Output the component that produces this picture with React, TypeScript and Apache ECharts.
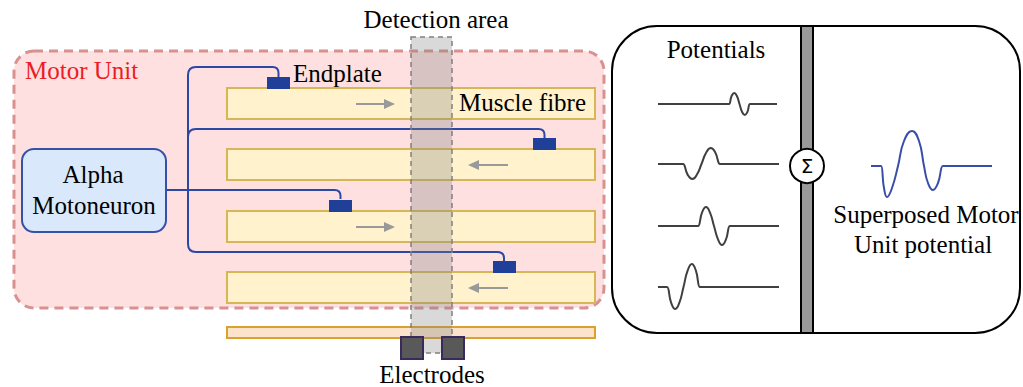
import React, { useEffect, useRef } from 'react';
import * as echarts from 'echarts';

// ---- data: estimated potential waveforms (time offset, amplitude) ----
const potential1 = [[0, 0], [69.5, 0], [71, 0], [73.6, 8], [76.3, 11], [78.9, 8], [81.5, 0], [84.1, -8], [86.8, -11], [89.4, -8], [92, 0], [93.5, 0], [119, 0]];
const potential2 = [[0, 0], [23.5, 0], [25, 0], [29.6, -10.6], [34.3, -15], [38.9, -10.6], [43.5, 0], [48.1, 11.3], [52.8, 16], [57.4, 11.3], [62, 0], [63.5, 0], [121, 0]];
const potential3 = [[0, 0], [38.5, 0], [40, 0], [44, 13.4], [48, 19], [52, 13.4], [56, 0], [60, -13.4], [64, -19], [68, -13.4], [72, 0], [73.5, 0], [121, 0]];
const potential4 = [[0, 0], [7.5, 0], [9, 0], [13.1, -15.6], [17.3, -22], [21.4, -15.6], [25.5, 0], [29.6, 16.3], [33.8, 23], [37.9, 16.3], [42, 0], [43.5, 0], [121, 0]];
const superposed = [[0, 0], [8.5, 0], [10, 0], [13, -22], [16, -31], [21, -22], [27, 0], [33, 25], [41, 35], [48, 25], [53, 0], [57, -17], [62, -24], [67, -17], [72, 0], [73.5, 0], [121, 0]];

const fibreLabels = ['Fibre 1', 'Fibre 2', 'Fibre 3', 'Fibre 4'];
const conduction = [1, -1, 1, -1];

// ---- layout ----
const fibreTop = [88, 149, 211, 272];
const endplateX = [267, 533, 329, 493];
const waveBase = [104, 164, 226, 287];
const potentials = [potential1, potential2, potential3, potential4];

const NERVE_D =
  'M 278.5 77 L 278.5 73 Q 278.5 67 272.5 67 L 196 67 Q 188 67 188 75 L 188 244 Q 188 252 196 252 L 497 252 Q 504 252 504 258 L 504 261 ' +
  'M 188 137 Q 188 129 196 129 L 538.5 129 Q 544.5 129 544.5 135 L 544.5 138 ' +
  'M 166 190 L 334.5 190 Q 340.5 190 340.5 196 L 340.5 199';

echarts.graphic.registerShape('nerve', echarts.graphic.extendPath(NERVE_D, {}));

const SERIF = 'Liberation Serif';

function txt(text: string, x: number, y: number, align: string, size = 25, color = '#000') {
  return {
    type: 'text',
    x,
    y,
    style: { text, fill: color, fontSize: size, fontFamily: SERIF, textAlign: align, textVerticalAlign: 'middle' },
  };
}

export default function App() {
  const ref = useRef<HTMLDivElement>(null);
  useEffect(() => {
    if (!ref.current) return;
    const chart = echarts.init(ref.current, null, { renderer: 'svg' });

    const graphics: any[] = [];
    // Motor unit box
    graphics.push({
      type: 'rect',
      shape: { x: 14, y: 51, width: 590, height: 257, r: 20 },
      style: { fill: '#fde0df', stroke: '#d89190', lineWidth: 3, lineDash: [9, 6] },
    });
    graphics.push(txt('Motor Unit', 25, 70, 'left', 25, '#ec1c24'));

    // fibres
    fibreLabels.forEach((_, i) => {
      const t = fibreTop[i];
      graphics.push({
        type: 'rect',
        shape: { x: 227, y: t, width: 368, height: 31 },
        style: { fill: '#fff2cc', stroke: '#d6b656', lineWidth: 2 },
      });
      const dir = conduction[i];
      const cy = t + 16;
      const x0 = dir > 0 ? 356 : 508;
      const x1 = dir > 0 ? 395 : 468;
      graphics.push({
        type: 'line',
        shape: { x1: x0, y1: cy, x2: x1 - dir * 6, y2: cy },
        style: { stroke: '#999999', lineWidth: 2 },
      });
      graphics.push({
        type: 'polygon',
        shape: { points: [[x1, cy], [x1 - dir * 11, cy - 5], [x1 - dir * 11, cy + 5]] },
        style: { fill: '#999999' },
      });
    });
    // bottom strip
    graphics.push({
      type: 'rect',
      shape: { x: 227, y: 327, width: 368, height: 11 },
      style: { fill: '#fde3cb', stroke: '#d9a12e', lineWidth: 2 },
    });

    // nerve
    graphics.push({ type: 'nerve', x: 0, y: 0, style: { fill: 'none', stroke: '#2b48a2', lineWidth: 2 } });
    // endplates
    endplateX.forEach((x, i) => {
      const t = fibreTop[i] - 11;
      graphics.push({
        type: 'rect',
        shape: { x, y: t, width: 23, height: 12 },
        style: { fill: '#1f3f99' },
      });
    });

    // motoneuron box
    graphics.push({
      type: 'rect',
      shape: { x: 22, y: 149, width: 144, height: 83, r: 12 },
      style: { fill: '#dae8fc', stroke: '#3651a5', lineWidth: 2 },
    });
    graphics.push(txt('Alpha', 93, 174, 'center'));
    graphics.push(txt('Motoneuron', 94, 205, 'center'));

    graphics.push(txt('Endplate', 293, 73, 'left'));
    graphics.push(txt('Muscle fibre', 459, 102, 'left'));

    // detection area
    graphics.push({
      type: 'rect',
      shape: { x: 411, y: 37, width: 41, height: 316 },
      style: { fill: 'rgba(128,128,128,0.3)', stroke: '#808080', lineWidth: 1.5, lineDash: [5, 4] },
    });
    graphics.push(txt('Detection area', 436, 19, 'center'));

    // electrodes
    [401, 442].forEach((x) => {
      graphics.push({
        type: 'rect',
        shape: { x, y: 337, width: 22, height: 22 },
        style: { fill: '#595959', stroke: '#3a2a5c', lineWidth: 2 },
      });
    });
    graphics.push(txt('Electrodes', 432, 374, 'center'));

    // right panel
    graphics.push({
      type: 'rect',
      shape: { x: 612, y: 26, width: 408, height: 307, r: 45 },
      style: { fill: '#ffffff', stroke: '#000000', lineWidth: 2 },
    });
    graphics.push({
      type: 'rect',
      shape: { x: 801, y: 26, width: 12, height: 307 },
      style: { fill: '#999999', stroke: '#000000', lineWidth: 2 },
    });
    graphics.push({
      type: 'circle',
      shape: { cx: 807, cy: 166, r: 17 },
      style: { fill: '#ffffff', stroke: '#000000', lineWidth: 2 },
    });
    graphics.push({
      type: 'text',
      x: 807,
      y: 166,
      style: { text: 'Σ', fill: '#000', fontSize: 20, fontFamily: 'DejaVu Sans', textAlign: 'center', textVerticalAlign: 'middle' },
    });
    graphics.push(txt('Potentials', 716, 49, 'center'));
    graphics.push(txt('Superposed Motor', 926, 214, 'center'));
    graphics.push(txt('Unit potential', 923, 244, 'center'));

    const grids: any[] = [];
    const xAxes: any[] = [];
    const yAxes: any[] = [];
    const series: any[] = [];
    potentials.forEach((p, i) => {
      grids.push({ left: 658, width: 121, top: waveBase[i] - 25, height: 50 });
      xAxes.push({ type: 'value', gridIndex: i, min: 0, max: 121, show: false });
      yAxes.push({ type: 'value', gridIndex: i, min: -25, max: 25, show: false });
      series.push({
        type: 'line',
        xAxisIndex: i,
        yAxisIndex: i,
        data: p,
        showSymbol: false,
        smooth: 0.5,
        lineStyle: { color: '#404040', width: 2 },
        z: 10,
      });
    });
    grids.push({ left: 871, width: 121, top: 126, height: 80 });
    xAxes.push({ type: 'value', gridIndex: 4, min: 0, max: 121, show: false });
    yAxes.push({ type: 'value', gridIndex: 4, min: -40, max: 40, show: false });
    series.push({
      type: 'line',
      xAxisIndex: 4,
      yAxisIndex: 4,
      data: superposed,
      showSymbol: false,
      smooth: 0.5,
      lineStyle: { color: '#3a4ea8', width: 2 },
      z: 10,
    });

    chart.setOption({
      animation: false,
      grid: grids,
      xAxis: xAxes,
      yAxis: yAxes,
      series,
      graphic: { elements: graphics },
    });
    return () => chart.dispose();
  }, []);
  return (
    <div
      ref={ref}
      style={{ position: 'absolute', left: 0, top: 0, width: 1023, height: 387, background: '#fff' }}
    />
  );
}
